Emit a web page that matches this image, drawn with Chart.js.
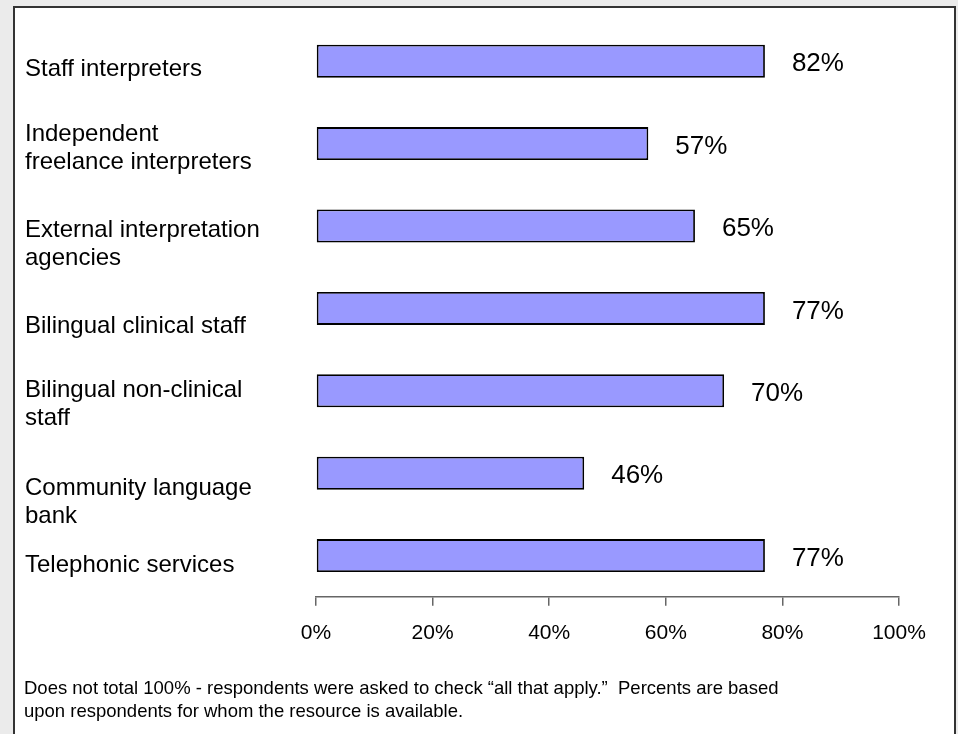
<!DOCTYPE html>
<html>
<head>
<meta charset="utf-8">
<script src="https://cdn.jsdelivr.net/npm/chart.js@4/dist/chart.umd.min.js"></script>
<style>
  html, body { margin:0; padding:0; width:958px; height:734px; overflow:hidden; background:#ebebeb; }
  #frame { position:absolute; left:13px; top:6px; width:939px; height:760px; background:#fff; border:2px solid #333; }
  #wrap { position:absolute; left:0; top:0; width:958px; height:734px; }
  #note { position:absolute; left:24px; top:676px; font:18.5px "Liberation Sans", Arial, sans-serif; line-height:23px; color:#000; white-space:nowrap; }
</style>
</head>
<body>
<div id="frame"></div>
<div id="wrap"><canvas id="chart"></canvas></div>
<div id="note">Does not total 100% - respondents were asked to check “all that apply.”&nbsp; Percents are based<br>upon respondents for whom the resource is available.</div>
<script>
// categories (multi-line labels as arrays)
const categories = [
  ['Staff interpreters'],
  ['Independent', 'freelance interpreters'],
  ['External interpretation', 'agencies'],
  ['Bilingual clinical staff'],
  ['Bilingual non-clinical', 'staff'],
  ['Community language', 'bank'],
  ['Telephonic services']
];
// bar lengths as drawn in the picture
const barValues = [77, 57, 65, 77, 70, 46, 77];
// value labels as printed next to each bar
const valueLabels = ['82%', '57%', '65%', '77%', '70%', '46%', '77%'];
const xTicks = [0, 20, 40, 60, 80, 100];

const FONT = '"Liberation Sans", Arial, sans-serif';

// draws the left-hand category text and the value labels
const textPlugin = {
  id: 'textPlugin',
  afterDatasetsDraw(chart, args, opts){
    const ctx = chart.ctx, y = chart.scales.y;
    ctx.save();
    ctx.fillStyle = '#000';
    ctx.textBaseline = 'middle';
    ctx.textAlign = 'left';
    ctx.font = opts.catSize + 'px ' + FONT;
    categories.forEach((lines, i) => {
      const cy = y.getPixelForValue(i) + opts.nudge[i];
      const top = cy - (lines.length - 1) * opts.lineHeight / 2;
      lines.forEach((t, j) => ctx.fillText(t, opts.labelX, top + j * opts.lineHeight));
    });
    ctx.font = opts.valSize + 'px ' + FONT;
    chart.getDatasetMeta(0).data.forEach((bar, i) => {
      ctx.fillText(valueLabels[i], bar.x + opts.gap, bar.y + 3);
    });
    ctx.restore();
  }
};

new Chart(document.getElementById('chart'), {
  type: 'bar',
  data: {
    labels: categories.map(c => c.join(' ')),
    datasets: [{
      data: barValues,
      backgroundColor: '#9999ff',
      borderColor: '#000',
      borderWidth: 1.8,
      borderSkipped: false,
      categoryPercentage: 1,
      barPercentage: 0.4
    }]
  },
  options: {
    indexAxis: 'y',
    responsive: true,
    maintainAspectRatio: false,
    animation: false,
    layout: { padding: { left: 316, right: 59, top: 20, bottom: 73 } },
    plugins: {
      legend: { display: false },
      tooltip: { enabled: false },
      textPlugin: { labelX: 25, lineHeight: 28, catSize: 24, valSize: 26, gap: 27, nudge: [8, 5, 18, 18, 14, 29, 10] }
    },
    scales: {
      x: {
        min: 0, max: 100,
        afterBuildTicks: s => { s.ticks = xTicks.map(v => ({ value: v })); },
        ticks: { callback: v => v + '%', color: '#000', font: { family: FONT, size: 21 }, padding: 15, maxRotation: 0 },
        grid: { drawOnChartArea: false, drawTicks: true, tickLength: 9, color: '#666', lineWidth: 1.5 },
        border: { display: true, color: '#666', width: 1.5 }
      },
      y: { display: false }
    }
  },
  plugins: [textPlugin]
});
</script>
</body>
</html>
